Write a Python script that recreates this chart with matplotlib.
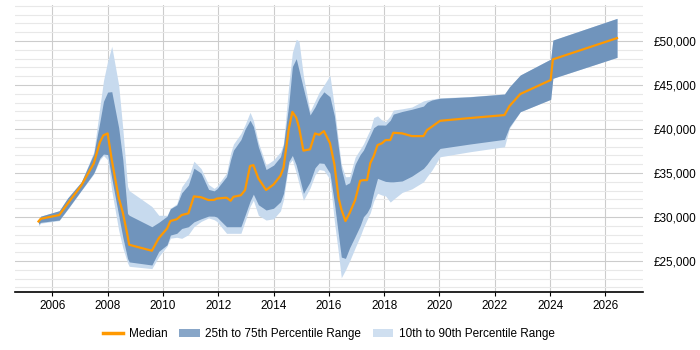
import matplotlib
matplotlib.use("Agg")
import numpy as np
from matplotlib import pyplot as plt
from matplotlib.patches import Patch
from matplotlib.lines import Line2D
from matplotlib.ticker import FuncFormatter, MultipleLocator

plt.rcParams["font.family"] = ["Liberation Sans", "DejaVu Sans"]

# decimal years
years = [
    2005.5, 2005.58, 2006.25, 2006.55, 2007.05, 2007.5, 2007.72, 2007.85, 2008.0,
    2008.15, 2008.4, 2008.55, 2008.72, 2008.78, 2009.6, 2009.85, 2010.15, 2010.27,
    2010.5, 2010.68, 2010.92, 2011.12, 2011.38, 2011.65, 2011.85, 2011.95, 2012.3,
    2012.45, 2012.55, 2012.82, 2012.97, 2013.15, 2013.27, 2013.45, 2013.73, 2014.0,
    2014.25, 2014.36, 2014.55, 2014.68, 2014.82, 2014.92, 2015.08, 2015.32, 2015.5,
    2015.65, 2015.82, 2016.04, 2016.2, 2016.35, 2016.45, 2016.6, 2016.75, 2016.95,
    2017.13, 2017.25, 2017.38, 2017.5, 2017.62, 2017.76, 2017.92, 2018.05, 2018.22,
    2018.33, 2018.65, 2019.0, 2019.42, 2019.55, 2019.72, 2020.02, 2021.1, 2022.35,
    2022.53, 2022.92, 2024.02, 2024.1, 2026.42,
]

median = [
    29500, 29800, 30230, 31500, 33600, 36100, 38500, 39300, 39500,
    36500, 32200, 30500, 27900, 26850, 26170, 27600, 28700, 29550,
    29750, 30230, 30420, 32350, 32250, 31930, 31950, 32100, 32200,
    31850, 32300, 32480, 33070, 35800, 35900, 34400, 33070, 33700,
    34700, 35600, 40000, 41950, 41300, 40200, 37550, 37700, 39500,
    39350, 39770, 38400, 36000, 32200, 30900, 29550, 30450, 31930,
    34120, 34200, 34200, 36150, 36900, 38180, 38380, 38750, 38750,
    39580, 39510, 39200, 39200, 39890, 40260, 40940, 41250, 41590,
    42610, 43980, 45570, 47920, 50340,
]

p75 = [
    29700, 30100, 30720, 32150, 34000, 37200, 40830, 43150, 44200,
    44250, 40150, 36500, 30400, 30200, 28900, 29400, 30100, 30950,
    31360, 32760, 33640, 35550, 35000, 33140, 32980, 33200, 34600,
    36550, 37600, 38800, 40000, 41000, 40300, 37990, 35400, 35900,
    36850, 38200, 42800, 47100, 48000, 46700, 44620, 41600, 42530,
    43500, 44230, 43670, 41500, 37800, 35500, 33640, 33900, 36000,
    37100, 37610, 38500, 39320, 40150, 40460, 40460, 40450, 41000,
    41700, 42000, 42250, 42610, 43050, 43300, 43500, 43670, 43980,
    44800, 46140, 47950, 50110, 52580,
]

p25 = [
    29200, 29400, 29660, 30900, 33050, 35000, 36700, 37160, 37100,
    34400, 30200, 27700, 25300, 24900, 24550, 26100, 26850, 27950,
    28150, 28700, 28900, 29450, 29800, 30110, 30100, 30000, 28900,
    28900, 28900, 28900, 30200, 31800, 32600, 31400, 30800, 31000,
    31740, 32690, 36300, 37000, 35900, 34700, 32690, 34000, 35600,
    36150, 36100, 34970, 31600, 27900, 25450, 25300, 26500, 27800,
    29000, 30030, 30500, 31200, 32800, 34400, 34200, 34050, 34000,
    34000, 34100, 34650, 35530, 36000, 36750, 37800, 38300, 38830,
    40260, 41970, 43380, 45770, 48150,
]

p90 = [
    29700, 30100, 30720, 32150, 34000, 37400, 42500, 45500, 47700,
    49400, 45000, 40000, 33500, 33000, 31200, 30200, 30200, 31000,
    31500, 33440, 34500, 36350, 35500, 33700, 33260, 33500, 35000,
    37300, 38300, 39500, 40500, 41900, 41000, 38500, 35900, 36500,
    37400, 38400, 45000, 48700, 50200, 50000, 46000, 42000, 43200,
    44200, 45000, 46100, 42500, 38500, 36000, 34580, 34600, 36800,
    37700, 38300, 39200, 40000, 41300, 41500, 41000, 40850, 41500,
    42160, 42300, 42500, 43200, 43300, 43400, 43550, 43700, 44000,
    44800, 46140, 47950, 50110, 52580,
]

p10 = [
    29000, 29300, 29600, 30850, 33000, 34900, 36500, 37000, 36500,
    33000, 28500, 26500, 24800, 24400, 24140, 25500, 26700, 27600,
    27700, 27580, 28000, 28900, 29500, 29900, 29700, 29500, 28150,
    28150, 28150, 28150, 29500, 31200, 31900, 30200, 29660, 29800,
    30700, 32000, 36000, 36500, 35000, 33800, 31900, 33300, 34800,
    35400, 35300, 34300, 29500, 25800, 23100, 23980, 25000, 26500,
    27800, 28800, 29700, 30500, 31800, 32700, 32500, 32400, 31700,
    32000, 32800, 33200, 34000, 34600, 35300, 36850, 37420, 37990,
    40100, 41970, 43380, 45770, 48150,
]

LIGHT = "#c7daee"
DARK = "#7094bc"
ORANGE = "#ff9900"

fig = plt.figure(figsize=(7, 3.5), dpi=100)
ax = fig.add_axes([0.0214, 0.1657, 0.8972, 0.82])

ax.fill_between(years, p10, p90, color=LIGHT, linewidth=0, zorder=2)
ax.fill_between(years, p25, p75, color=DARK, linewidth=0, zorder=3)
ax.plot(years, median, color=ORANGE, linewidth=1.6, zorder=4)

ax.set_xlim(2004.65, 2027.36)
ax.set_ylim(21480, 54100)

ax.xaxis.set_major_locator(MultipleLocator(2))
ax.yaxis.set_major_locator(MultipleLocator(5000))
ax.yaxis.set_minor_locator(MultipleLocator(1000))
ax.yaxis.set_major_formatter(FuncFormatter(lambda v, p: "£{:,.0f}".format(v)))
ax.yaxis.tick_right()

ax.grid(True, which="major", axis="both", color="#cccccc", linewidth=0.8, zorder=0)
ax.grid(True, which="minor", axis="y", color="#e8e8e8", linewidth=0.8, zorder=0)
ax.set_axisbelow(True)

for side in ("left", "right", "top"):
    ax.spines[side].set_visible(False)
ax.spines["bottom"].set_color("black")
ax.spines["bottom"].set_linewidth(1.2)

ax.tick_params(axis="x", length=3, color="black", labelsize=8.5, pad=3)
ax.tick_params(axis="y", which="both", length=0, labelsize=8.5, pad=8)

handles = [
    Line2D([0], [0], color=ORANGE, linewidth=2.5),
    Patch(facecolor="#88a6c8", edgecolor="none"),
    Patch(facecolor="#cfdff0", edgecolor="none"),
]
labels = ["Median", "25th to 75th Percentile Range", "10th to 90th Percentile Range"]
fig.legend(handles, labels, loc="center", bbox_to_anchor=(0.47, 0.045), ncol=3,
           frameon=False, fontsize=8.5, handlelength=1.7, columnspacing=1.0,
           handletextpad=0.5)

fig.savefig("out.png", dpi=100)
